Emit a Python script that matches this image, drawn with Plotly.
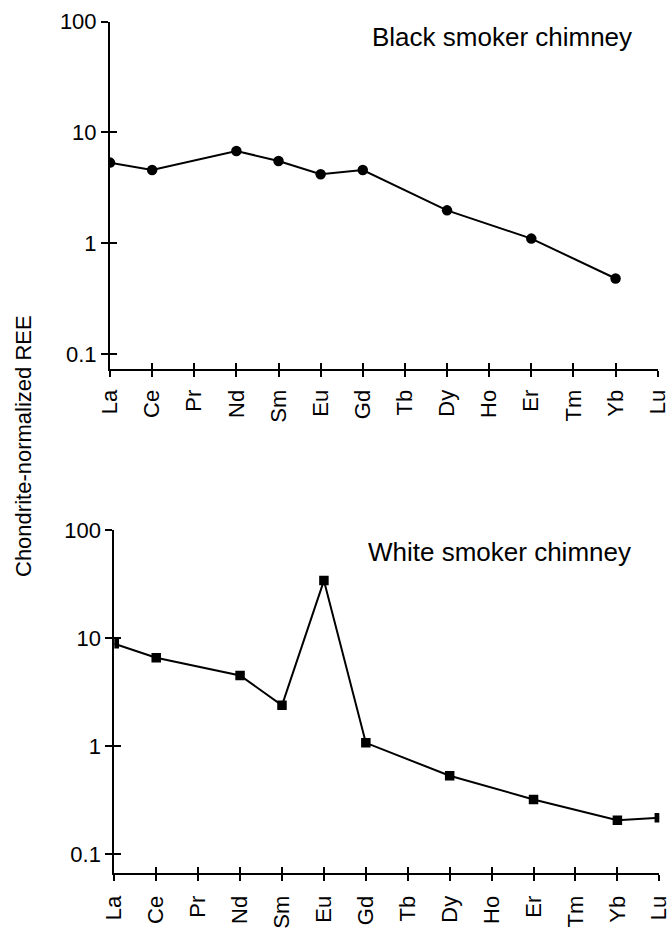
import plotly.graph_objects as go

# Rare earth elements along the x axis
ree = ["La", "Ce", "Pr", "Nd", "Sm", "Eu", "Gd", "Tb", "Dy", "Ho", "Er", "Tm", "Yb", "Lu"]

# Chondrite-normalized concentrations (None = not analysed)
black_smoker = [5.34, 4.58, None, 6.8, 5.53, 4.2, 4.58, None, 1.98, None, 1.10, None, 0.48, None]
white_smoker = [8.85, 6.57, None, 4.5, 2.38, 34.0, 1.07, None, 0.53, None, 0.32, None, 0.205, 0.217]

y_tickvals = [0.1, 1, 10, 100]
y_ticktext = ["0.1", "1", "10", "100"]

FONT = "Liberation Sans, Arial, sans-serif"
W, H = 667, 930


def px_x(p):
    return p / W


def px_y(p):
    return 1 - p / H


panels = [
    # x domain px, y domain px (top, bottom), log-range bottom, label gap
    dict(x=(110, 657.7), y=(21.7, 369), ylo=-1.136, standoff=4),
    dict(x=(114.3, 659.3), y=(530, 873), ylo=-1.176, standoff=6),
]

fig = go.Figure()

fig.add_trace(go.Scatter(
    x=ree, y=black_smoker, mode="lines+markers", connectgaps=True,
    line=dict(color="black", width=2),
    marker=dict(symbol="circle", size=10.5, color="black"),
    xaxis="x", yaxis="y", showlegend=False,
))
fig.add_trace(go.Scatter(
    x=ree, y=white_smoker, mode="lines+markers", connectgaps=True,
    line=dict(color="black", width=2),
    marker=dict(symbol="square", size=9.5, color="black"),
    xaxis="x2", yaxis="y2", showlegend=False,
))

layout = dict(
    width=W, height=H,
    margin=dict(l=0, r=0, t=0, b=0, autoexpand=False),
    paper_bgcolor="white", plot_bgcolor="white",
    font=dict(family=FONT, size=21, color="black"),
    showlegend=False,
)

for i, p in enumerate(panels):
    n = i + 1
    xs = "" if n == 1 else str(n)
    ov = str(n + 2)
    xdom = [px_x(p["x"][0]), px_x(p["x"][1])]
    ydom = [px_y(p["y"][1]), px_y(p["y"][0])]
    yrange = [p["ylo"], 2]

    # main axes: outside ticks and labels
    layout["xaxis" + xs] = dict(
        domain=xdom, anchor="y" + xs, type="category",
        categoryorder="array", categoryarray=ree,
        range=[0, 13], tickmode="array", tickvals=ree, ticktext=ree,
        tickangle=-90, ticks="outside", ticklen=6, tickwidth=2, tickcolor="black",
        showline=True, linecolor="black", linewidth=2,
        showgrid=False, zeroline=False, fixedrange=True, automargin=False,
        tickfont=dict(family=FONT, size=22), ticklabelstandoff=p["standoff"],
    )
    layout["yaxis" + xs] = dict(
        domain=ydom, anchor="x" + xs, type="log", range=yrange,
        tickmode="array", tickvals=y_tickvals, ticktext=y_ticktext,
        ticks="outside", ticklen=7, tickwidth=2, tickcolor="black",
        showline=True, linecolor="black", linewidth=2,
        showgrid=False, zeroline=False, fixedrange=True, automargin=False,
        tickfont=dict(family=FONT, size=22),
    )
    # overlay axes: inside ticks so each tick crosses the axis line
    layout["xaxis" + ov] = dict(
        overlaying="x" + xs, anchor="y" + xs, range=[0, 13],
        tickmode="linear", tick0=0, dtick=1,
        ticks="inside", ticklen=6, tickwidth=2, tickcolor="black",
        showticklabels=False, showline=False, showgrid=False, zeroline=False,
        fixedrange=True, automargin=False,
    )
    layout["yaxis" + ov] = dict(
        overlaying="y" + xs, anchor="x" + xs, type="log", range=yrange,
        tickmode="array", tickvals=y_tickvals,
        ticks="inside", ticklen=7, tickwidth=2, tickcolor="black",
        showticklabels=False, showline=False, showgrid=False, zeroline=False,
        fixedrange=True, automargin=False,
    )
    fig.add_trace(go.Scatter(
        x=[None], y=[None], mode="markers", hoverinfo="skip",
        xaxis="x" + ov, yaxis="y" + ov, showlegend=False,
    ))

layout["annotations"] = [
    dict(text="Black smoker chimney", xref="paper", yref="paper",
         x=px_x(501.5), y=px_y(37), xanchor="center", yanchor="middle",
         showarrow=False, font=dict(family=FONT, size=26)),
    dict(text="White smoker chimney", xref="paper", yref="paper",
         x=px_x(500), y=px_y(552), xanchor="center", yanchor="middle",
         showarrow=False, font=dict(family=FONT, size=26)),
    dict(text="Chondrite-normalized REE", xref="paper", yref="paper",
         x=px_x(24), y=px_y(446), xanchor="center", yanchor="middle",
         textangle=-90, showarrow=False, font=dict(family=FONT, size=22)),
]

fig.update_layout(**layout)
fig.write_html("out.html")
